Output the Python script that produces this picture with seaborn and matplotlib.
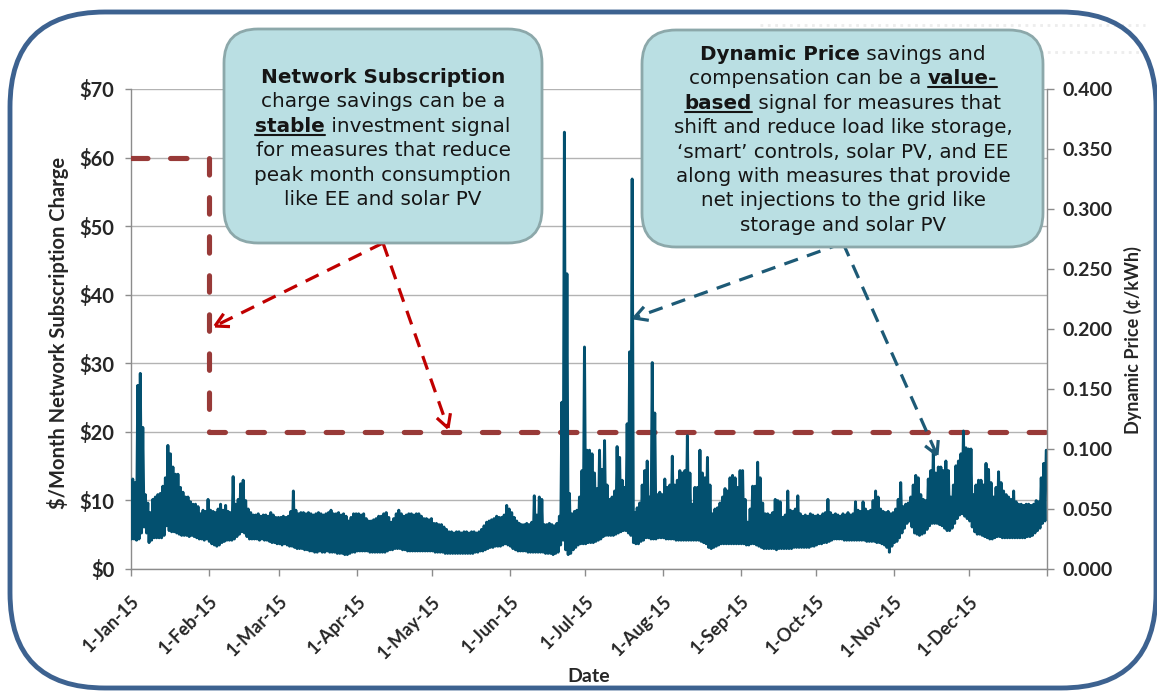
import numpy as np
import pandas as pd
import matplotlib
matplotlib.use("Agg")
import matplotlib.pyplot as plt
from matplotlib.patches import FancyBboxPatch
from matplotlib.lines import Line2D
from matplotlib.transforms import IdentityTransform
import seaborn as sns

sns.set_theme(style="white")
plt.rcParams['font.family'] = ['Lato', 'DejaVu Sans']

# ---------------- data ----------------
month_labels = ['1-Jan-15', '1-Feb-15', '1-Mar-15', '1-Apr-15', '1-May-15', '1-Jun-15',
                '1-Jul-15', '1-Aug-15', '1-Sep-15', '1-Oct-15', '1-Nov-15', '1-Dec-15']

# network subscription charge ($/month), step at 1-Feb
sub_dates = ['2015-01-01', '2015-02-01', '2015-02-01', '2016-01-01']
sub_charge = [60, 60, 20, 20]

# dynamic price, daily low / high, in thousandths of $/kWh
price_low = [
    25, 25, 24, 25, 30, 35, 30, 22, 24, 26, 26, 26, 26, 28, 36, 32, 31, 31, 30, 29, 28, 28, 28, 27, 28, 27, 26, 25, 25, 24, 25,  # Jan
    23, 21, 20, 19, 20, 22, 23, 24, 24, 24, 25, 27, 29, 31, 30, 27, 25, 25, 25, 25, 24, 25, 24, 24, 23, 22, 22, 21,  # Feb
    21, 20, 21, 20, 19, 19, 18, 17, 17, 17, 16, 16, 15, 15, 14, 14, 15, 14, 14, 15, 14, 14, 14, 13, 13, 13, 12, 12, 13, 14, 14,  # Mar
    15, 15, 15, 15, 15, 14, 14, 14, 14, 14, 14, 14, 15, 16, 16, 17, 17, 17, 16, 16, 15, 15, 15, 15, 15, 15, 15, 15, 15, 15,  # Apr
    15, 14, 14, 14, 14, 13, 13, 13, 13, 13, 13, 13, 13, 13, 13, 13, 13, 14, 14, 15, 15, 16, 17, 18, 18, 19, 19, 19, 20, 21, 20,  # May
    19, 17, 16, 15, 15, 15, 15, 14, 14, 14, 14, 14, 14, 14, 13, 13, 13, 12, 13, 14, 20, 24, 16, 12, 13, 16, 18, 20, 21, 21,  # Jun
    21, 22, 22, 22, 23, 24, 25, 27, 28, 28, 28, 28, 29, 30, 31, 32, 32, 30, 28, 22, 21, 21, 23, 24, 26, 26, 25, 25, 25, 26, 26,  # Jul
    26, 25, 25, 25, 25, 24, 24, 24, 24, 24, 24, 24, 24, 24, 24, 23, 22, 21, 18, 17, 18, 19, 20, 21, 21, 21, 21, 21, 21, 21, 21,  # Aug
    21, 21, 20, 20, 21, 21, 20, 19, 18, 17, 17, 17, 17, 17, 16, 17, 17, 17, 17, 17, 17, 18, 18, 18, 18, 18, 18, 18, 19, 19,  # Sep
    20, 21, 21, 22, 22, 23, 24, 25, 25, 25, 25, 24, 24, 24, 24, 24, 24, 24, 24, 24, 23, 23, 23, 23, 22, 22, 21, 20, 18, 14, 19,  # Oct
    22, 23, 26, 30, 34, 38, 40, 35, 30, 29, 28, 29, 30, 33, 36, 38, 38, 38, 37, 36, 34, 32, 32, 34, 38, 42, 45, 46, 44, 42,  # Nov
    40, 35, 31, 29, 29, 28, 27, 26, 25, 25, 26, 27, 27, 26, 26, 26, 26, 26, 26, 26, 26, 26, 26, 27, 27, 28, 30, 32, 34, 38, 40,  # Dec
]
price_high = [
    75, 72, 153, 163, 118, 62, 55, 47, 58, 60, 62, 63, 69, 76, 103, 96, 85, 79, 79, 68, 64, 60, 60, 56, 54, 54, 52, 46, 49, 48, 58,  # Jan
    49, 48, 47, 50, 54, 49, 53, 48, 47, 77, 54, 58, 71, 74, 57, 50, 47, 45, 45, 46, 44, 45, 45, 44, 47, 45, 43, 43,  # Feb
    43, 44, 43, 44, 48, 65, 49, 46, 47, 47, 46, 47, 46, 45, 46, 47, 46, 45, 46, 47, 49, 46, 46, 47, 45, 46, 44, 40, 43, 46, 46,  # Mar
    46, 45, 46, 42, 40, 40, 41, 42, 44, 44, 46, 47, 43, 39, 42, 46, 49, 46, 44, 45, 46, 46, 45, 46, 46, 44, 42, 42, 41, 42,  # Apr
    38, 38, 37, 37, 35, 33, 31, 31, 30, 31, 31, 30, 31, 31, 30, 31, 31, 30, 31, 33, 36, 39, 40, 41, 42, 44, 43, 43, 45, 53, 50,  # May
    47, 43, 40, 38, 37, 37, 38, 37, 39, 61, 45, 60, 58, 37, 37, 38, 37, 36, 38, 44, 139, 364, 246, 63, 46, 48, 49, 60, 82, 185,  # Jun
    99, 99, 96, 80, 67, 99, 83, 107, 70, 58, 60, 65, 102, 93, 74, 68, 121, 181, 325, 47, 51, 55, 70, 82, 90, 60, 172, 130, 62, 64, 62,  # Jul
    75, 68, 70, 94, 70, 74, 82, 80, 82, 111, 80, 54, 68, 68, 99, 80, 76, 93, 70, 46, 50, 51, 55, 60, 67, 65, 76, 78, 76, 68, 82,  # Aug
    82, 58, 39, 50, 69, 69, 89, 76, 55, 46, 46, 45, 47, 58, 57, 56, 43, 45, 65, 49, 48, 50, 61, 46, 44, 45, 44, 46, 45, 44,  # Sep
    45, 44, 46, 47, 58, 47, 45, 46, 45, 44, 46, 45, 47, 45, 46, 56, 49, 48, 56, 50, 48, 49, 57, 65, 60, 50, 48, 47, 48, 46, 47,  # Oct
    50, 58, 72, 52, 54, 55, 60, 70, 78, 76, 62, 58, 57, 75, 82, 99, 80, 85, 85, 82, 90, 82, 60, 70, 86, 90, 96, 115, 101, 100,  # Nov
    100, 62, 70, 74, 74, 70, 88, 83, 72, 60, 68, 81, 72, 65, 62, 60, 58, 65, 56, 54, 54, 53, 54, 54, 53, 54, 57, 56, 76, 88, 99,  # Dec
]

left_box_lines = [
    [('Network Subscription', 'bold', False)],
    [('charge savings can be a', 'normal', False)],
    [('stable', 'bold', True), (' investment signal', 'normal', False)],
    [('for measures that reduce', 'normal', False)],
    [('peak month consumption', 'normal', False)],
    [('like EE and solar PV', 'normal', False)],
]
right_box_lines = [
    [('Dynamic Price', 'bold', False), (' savings and', 'normal', False)],
    [('compensation can be a ', 'normal', False), ('value-', 'bold', True)],
    [('based', 'bold', True), (' signal for measures that', 'normal', False)],
    [('shift and reduce load like storage,', 'normal', False)],
    [('\u2018smart\u2019 controls, solar PV, and EE', 'normal', False)],
    [('along with measures that provide', 'normal', False)],
    [('net injections to the grid like', 'normal', False)],
    [('storage and solar PV', 'normal', False)],
]

# ---------------- frames ----------------
year_start = pd.Timestamp('2015-01-01')
days = np.arange(len(price_low))
sub_df = pd.DataFrame({'date': pd.to_datetime(sub_dates), 'charge': sub_charge})
price_df = pd.DataFrame({
    'date': np.concatenate([year_start + pd.to_timedelta(days + 0.2, unit='D'),
                            year_start + pd.to_timedelta(days + 0.7, unit='D')]),
    'price': np.concatenate([price_low, price_high]) / 1000.0,
}).sort_values('date')

W, H = 1157, 696
GRAY = '#8C8C8C'
PRICE_C = '#03506F'
SUB_C = '#983A38'

fig = plt.figure(figsize=(W / 100, H / 100), dpi=100)
fig.patch.set_facecolor('white')
ax = fig.add_axes([131 / W, 1 - 569 / H, (1047 - 131) / W, (569 - 89) / H])

# subscription charge (left axis)
sns.lineplot(data=sub_df, x='date', y='charge', ax=ax, color=SUB_C, lw=3.7,
             estimator=None, sort=False, dash_capstyle='round',
             linestyle=(0, (3.2, 4.4)), zorder=3)
ax.set_ylim(0, 70)
ax.set_xlim(year_start, pd.Timestamp('2016-01-01'))
ax.set_yticks(range(0, 71, 10), labels=[f'${v}' for v in range(0, 71, 10)],
              fontweight='bold', fontsize=14.5)
month_ticks = pd.date_range('2015-01-01', '2016-01-01', freq='MS')
ax.set_xticks(month_ticks, labels=month_labels + [''], rotation=45, ha='right',
              rotation_mode='anchor', fontweight='bold', fontsize=13)
ax.yaxis.grid(True, color='#B3B3B3', lw=1)
ax.xaxis.grid(False)
ax.set_axisbelow(True)
ax.tick_params(axis='y', left=True, length=4, width=1, color=GRAY, pad=8)
ax.tick_params(axis='x', bottom=True, length=5, width=1, color=GRAY, pad=12)
ax.set_xlabel('')
ax.set_ylabel('')
for s in ['top', 'right']:
    ax.spines[s].set_visible(False)
for s in ['left', 'bottom']:
    ax.spines[s].set_color(GRAY)
    ax.spines[s].set_linewidth(1)

# dynamic price (right axis)
ax2 = ax.twinx()
sns.lineplot(data=price_df, x='date', y='price', ax=ax2, color=PRICE_C, lw=2.1,
             estimator=None, sort=False)
ax2.set_ylim(0, 0.4)
ax2.set_xlim(year_start, pd.Timestamp('2016-01-01'))
ax2.set_yticks(np.arange(0, 0.401, 0.05), labels=[f'{v:.3f}' for v in np.arange(0, 0.401, 0.05)],
               fontweight='bold', fontsize=14)
ax2.tick_params(axis='y', right=True, length=5, width=1, color=GRAY, pad=6)
ax2.set_xlabel('')
ax2.set_ylabel('')
for s in ['top', 'left', 'bottom']:
    ax2.spines[s].set_visible(False)
ax2.spines['right'].set_color(GRAY)
ax2.spines['right'].set_linewidth(1)

# axis titles
fig.text(58 / W, 1 - 333 / H, '$/Month Network Subscription Charge', rotation=90,
         ha='center', va='center', fontweight='bold', fontsize=14.5)
fig.text(1133 / W, 1 - 340 / H, 'Dynamic Price (\u00a2/kWh)', rotation=90,
         ha='center', va='center', fontweight='bold', fontsize=13)
fig.text(589 / W, 1 - 677 / H, 'Date', ha='center', va='center', fontweight='bold', fontsize=14)

# ---------------- callouts (pixel coords, y from top) ----------------
PIX = IdentityTransform()


def py(y):
    return H - y


BOX_FONT = 'DejaVu Sans'
renderer = fig.canvas.get_renderer()


def text_width(s, weight, size):
    t1 = fig.text(0, 0, '|' + s + '|', fontsize=size, fontweight=weight, family=BOX_FONT)
    t2 = fig.text(0, 0, '||', fontsize=size, fontweight=weight, family=BOX_FONT)
    w = t1.get_window_extent(renderer).width - t2.get_window_extent(renderer).width
    t1.remove()
    t2.remove()
    return w


def rich_text(cx, top_base, spacing, lines, size):
    for i, segs in enumerate(lines):
        widths = [text_width(s, wgt, size) for s, wgt, _ in segs]
        x = cx - sum(widths) / 2
        yb = py(top_base + i * spacing)
        for (s, wgt, under), w in zip(segs, widths):
            fig.text(x, yb, s, transform=PIX, fontsize=size, fontweight=wgt,
                     family=BOX_FONT, ha='left', va='baseline', color='#151515', zorder=8)
            if under:
                lead = len(s) - len(s.lstrip())
                x0 = x + (text_width(s[:lead], wgt, size) if lead else 0)
                fig.add_artist(Line2D([x0, x + w], [yb - 3, yb - 3], transform=PIX,
                                      color='#151515', lw=1.5, zorder=8))
            x += w


def callout(x0, y0, x1, y1):
    fig.add_artist(FancyBboxPatch((x0, py(y1)), x1 - x0, y1 - y0, transform=PIX,
                                  boxstyle='round,pad=0,rounding_size=34',
                                  facecolor='#BADFE3', edgecolor='#8CA8AA', lw=2, zorder=6))


def dashed_arrow(x0, y0, x1, y1, color):
    fig.add_artist(Line2D([x0, x1], [py(y0), py(y1)], transform=PIX, color=color,
                          lw=2.3, linestyle=(0, (4.5, 3)), zorder=5))
    ang = np.arctan2(py(y0) - py(y1), x0 - x1)
    for da in (0.5, -0.5):
        fig.add_artist(Line2D([x1, x1 + 15 * np.cos(ang + da)],
                              [py(y1), py(y1) + 15 * np.sin(ang + da)],
                              transform=PIX, color=color, lw=2.3, zorder=5,
                              solid_capstyle='butt'))


callout(224, 29, 542, 243)
rich_text(383, 83, 24.4, left_box_lines, 14.4)
callout(642, 30, 1043, 247)
rich_text(843, 60, 24.4, right_box_lines, 14.3)

dashed_arrow(383, 243, 215, 326, '#C00000')
dashed_arrow(383, 243, 448, 428, '#C00000')
dashed_arrow(843, 243, 634, 318, '#1D5A76')
dashed_arrow(843, 243, 937, 455, '#1D5A76')

# faint decoration top-right
fig.add_artist(Line2D([760, 1145], [py(25), py(25)], transform=PIX, color='#EDEDED',
                      lw=2, linestyle=':', zorder=1))
fig.add_artist(Line2D([1040, 1145], [py(52), py(52)], transform=PIX, color='#EDEDED',
                      lw=2, linestyle=':', zorder=1))

# outer rounded frame
fig.add_artist(FancyBboxPatch((10, py(688)), 1146, 676, transform=PIX,
                              boxstyle='round,pad=0,rounding_size=95',
                              facecolor='none', edgecolor='#3D6290', lw=3.5, zorder=10))

fig.savefig('out.png', dpi=100)
